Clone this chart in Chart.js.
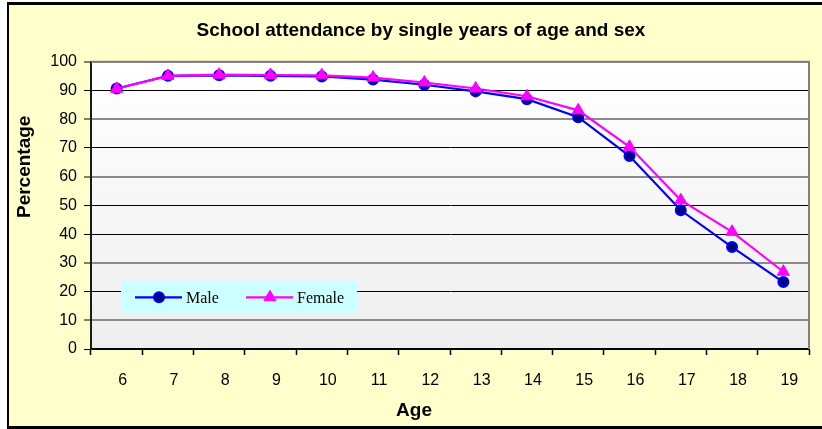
<!DOCTYPE html>
<html>
<head>
<meta charset="utf-8">
<title>School attendance by single years of age and sex</title>
<script src="https://cdn.jsdelivr.net/npm/chart.js@4/dist/chart.umd.min.js"></script>
<style>
  html, body { margin: 0; padding: 0; background: #ffffff; }
  #wrap { width: 822px; height: 429px; }
</style>
</head>
<body>
<div id="wrap"><canvas id="chart" width="822" height="429"></canvas></div>
<script>
// Ages (x categories)
const ages = ['6', '7', '8', '9', '10', '11', '12', '13', '14', '15', '16', '17', '18', '19'];
// Percentage attending school, by sex
const male = [90.7, 95.1, 95.3, 95.1, 94.9, 93.8, 92.0, 89.7, 87.0, 80.7, 67.2, 48.3, 35.5, 23.3];
const female = [90.6, 95.1, 95.5, 95.4, 95.3, 94.5, 92.8, 90.7, 88.0, 83.1, 70.4, 51.8, 40.8, 26.9];
// Y axis range and step
const yMin = 0, yMax = 100, yStep = 10;

const titleText = 'School attendance by single years of age and sex';
const xTitle = 'Age';
const yTitle = 'Percentage';

const SANS = "'Liberation Sans', Arial, sans-serif";
const SERIF = "'Liberation Serif', 'Times New Roman', serif";

// Gridline look per value: some lines dark and thin, some grey and wider
const greyLines = [100, 80, 60, 30, 10];

const frame = {
  id: 'frame',
  beforeDraw(chart) {
    const { ctx, chartArea: a } = chart;
    ctx.save();
    ctx.fillStyle = '#ffffff';
    ctx.fillRect(0, 0, chart.width, chart.height);
    ctx.fillStyle = '#FFFFCC';
    ctx.fillRect(7, 2, chart.width - 7, chart.height - 2);
    ctx.fillStyle = '#000000';
    ctx.fillRect(7, 2, chart.width - 7, 3);
    ctx.fillRect(7, 2, 2, chart.height - 2);
    ctx.fillRect(7, chart.height - 3, chart.width - 7, 3);
    const g = ctx.createLinearGradient(0, a.top, 0, a.bottom);
    g.addColorStop(0, '#ffffff');
    g.addColorStop(1, '#eeeeee');
    ctx.fillStyle = g;
    ctx.fillRect(a.left, a.top, a.right - a.left, a.bottom - a.top);
    ctx.restore();
  },
  beforeDatasetsDraw(chart) {
    const { ctx, chartArea: a } = chart;
    ctx.save();
    ctx.strokeStyle = '#808080';
    ctx.lineWidth = 2;
    ctx.beginPath();
    ctx.moveTo(a.left, a.top);
    ctx.lineTo(a.right, a.top);
    ctx.lineTo(a.right, a.bottom);
    ctx.stroke();
    ctx.restore();
  },
  afterDatasetsDraw(chart) {
    // Legend box inside the plot area
    const { ctx, chartArea: a } = chart;
    const bx = a.left + 30, by = a.top + 220, bw = 236, bh = 31;
    ctx.save();
    ctx.fillStyle = '#CCFFFF';
    ctx.fillRect(bx, by, bw, bh);
    const cy = by + 15.5;
    const items = [0, 1].map(i => chart.data.datasets[i]);
    const offsets = [14, 125];
    items.forEach((ds, k) => {
      const x0 = bx + offsets[k];
      ctx.strokeStyle = ds.borderColor;
      ctx.lineWidth = ds.borderWidth;
      ctx.beginPath();
      ctx.moveTo(x0, cy);
      ctx.lineTo(x0 + 47, cy);
      ctx.stroke();
      ctx.fillStyle = ds.pointBackgroundColor;
      ctx.strokeStyle = ds.pointBorderColor;
      ctx.lineWidth = ds.pointBorderWidth;
      Chart.helpers.drawPoint(ctx, {
        pointStyle: ds.pointStyle, radius: ds.pointRadius,
        borderWidth: ds.pointBorderWidth, rotation: 0
      }, x0 + 24, cy);
      ctx.fillStyle = '#000000';
      ctx.font = '16px ' + SERIF;
      ctx.textAlign = 'left';
      ctx.textBaseline = 'middle';
      ctx.fillText(ds.label, x0 + 51, cy + 1);
    });
    ctx.restore();
  },
  afterDraw(chart) {
    const { ctx, chartArea: a } = chart;
    ctx.save();
    ctx.fillStyle = '#000000';
    ctx.font = 'bold 19px ' + SANS;
    ctx.textAlign = 'center';
    ctx.textBaseline = 'middle';
    ctx.fillText(xTitle, a.left + 323, a.bottom + 62);
    ctx.translate(25, a.top + 105);
    ctx.rotate(-Math.PI / 2);
    ctx.fillText(yTitle, 0, 0);
    ctx.restore();
  }
};

new Chart(document.getElementById('chart'), {
  type: 'line',
  data: {
    labels: ages,
    datasets: [
      {
        label: 'Male', data: male, order: 2,
        borderColor: '#0000FF', borderWidth: 2.2, tension: 0,
        pointStyle: 'circle', pointRadius: 5,
        pointBackgroundColor: '#000080', pointBorderColor: '#0000FF', pointBorderWidth: 2
      },
      {
        label: 'Female', data: female, order: 1,
        borderColor: '#FF00FF', borderWidth: 2.2, tension: 0,
        pointStyle: 'triangle', pointRadius: 7,
        pointBackgroundColor: '#FF00FF', pointBorderColor: '#FF00FF', pointBorderWidth: 1
      }
    ]
  },
  options: {
    responsive: false,
    animation: false,
    events: [],
    layout: { padding: { left: 33, right: 13, top: 0, bottom: 0 } },
    plugins: {
      legend: { display: false },
      tooltip: { enabled: false },
      title: {
        display: true, text: titleText, color: '#000000',
        font: { family: SANS, size: 19, weight: 'bold', lineHeight: 1.2 },
        padding: { top: 19, bottom: 20 }
      }
    },
    scales: {
      x: {
        type: 'category',
        offset: true,
        grid: {
          offset: true, drawOnChartArea: false, drawTicks: true,
          tickLength: 6, tickColor: '#000000', tickWidth: 1.5
        },
        border: { display: true, color: '#000000', width: 2 },
        ticks: {
          color: '#000000', font: { family: SANS, size: 16 },
          padding: 16, labelOffset: 6, maxRotation: 0, autoSkip: false
        },
        afterFit(scale) { scale.height = 80; }
      },
      y: {
        min: yMin, max: yMax,
        grid: {
          color: c => greyLines.includes(c.tick.value) ? '#8a8a8a' : '#000000',
          lineWidth: c => greyLines.includes(c.tick.value) ? 2 : 1,
          tickColor: '#000000', tickLength: 7, tickWidth: 1
        },
        border: { display: true, color: '#1a1a1a', width: 2 },
        ticks: {
          stepSize: yStep, color: '#000000',
          font: { family: SANS, size: 16 }, padding: 7
        },
        afterFit(scale) { scale.width = 58; }
      }
    }
  },
  plugins: [frame]
});
</script>
</body>
</html>
